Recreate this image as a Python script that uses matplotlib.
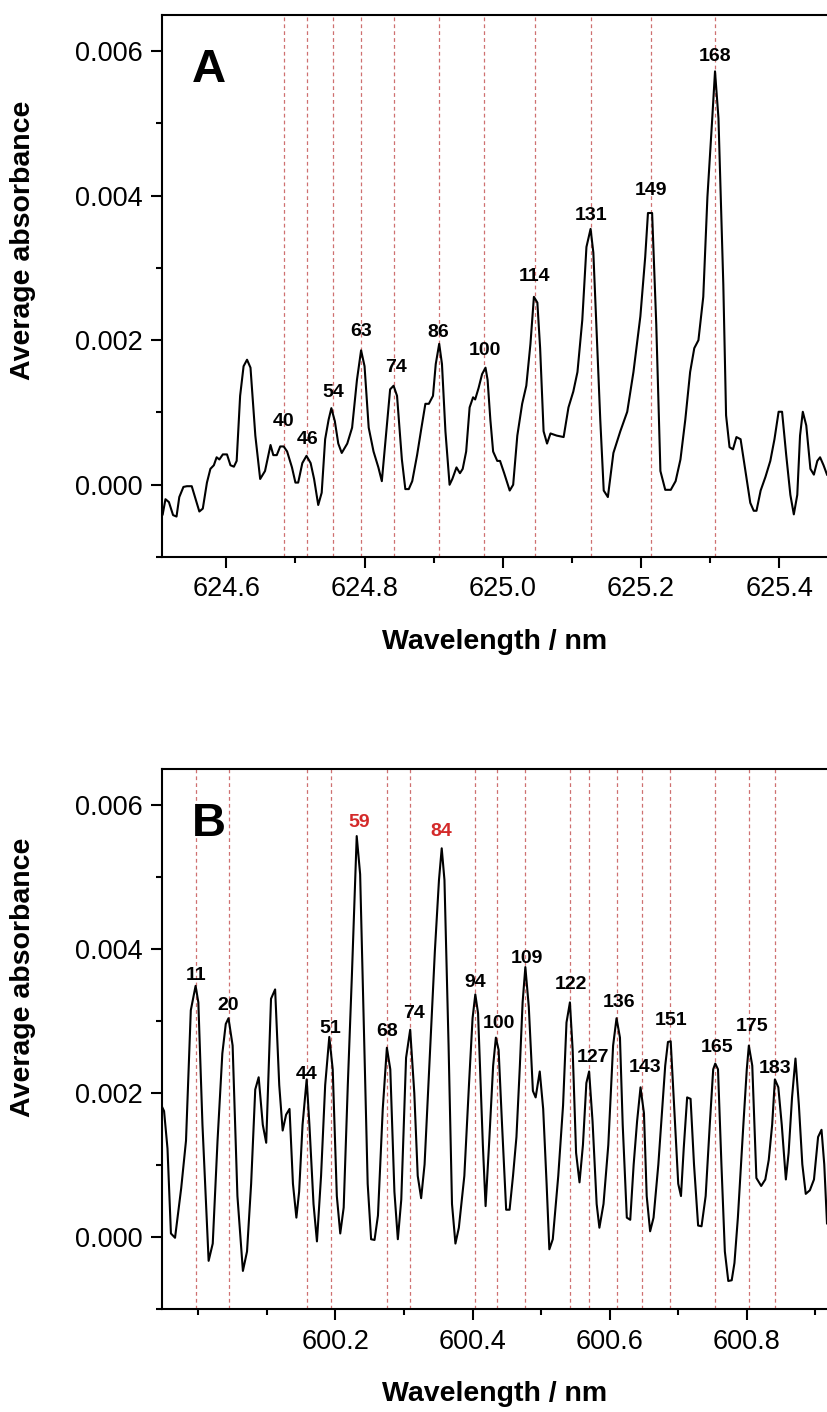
import numpy as np
import matplotlib
matplotlib.use("Agg")
import matplotlib.pyplot as plt
from matplotlib.ticker import MultipleLocator, FixedLocator, FormatStrFormatter

plt.rcParams['font.family'] = ['Liberation Sans', 'DejaVu Sans']

# ---- panel A data ----
wl_a = [624.508, 624.512, 624.517, 624.523, 624.528, 624.532, 624.538, 624.543, 624.550, 624.555,
        624.561, 624.566, 624.572, 624.577, 624.582, 624.586, 624.590, 624.595, 624.601, 624.606,
        624.611, 624.615, 624.620, 624.625, 624.630, 624.635, 624.642, 624.649, 624.656, 624.664,
        624.668, 624.673, 624.678, 624.683, 624.688, 624.695, 624.700, 624.704, 624.710, 624.716,
        624.722, 624.727, 624.733, 624.738, 624.743, 624.748, 624.752, 624.757, 624.762, 624.767,
        624.775, 624.782, 624.789, 624.795, 624.800, 624.806, 624.813, 624.820, 624.825, 624.833,
        624.837, 624.842, 624.847, 624.854, 624.859, 624.864, 624.869, 624.876, 624.882, 624.888,
        624.893, 624.899, 624.903, 624.908, 624.912, 624.917, 624.923, 624.927, 624.933, 624.938,
        624.942, 624.947, 624.952, 624.957, 624.960, 624.965, 624.970, 624.975, 624.978, 624.982,
        624.986, 624.992, 624.996, 625.002, 625.010, 625.015, 625.021, 625.028, 625.034, 625.040,
        625.045, 625.050, 625.054, 625.059, 625.064, 625.069, 625.078, 625.088, 625.095, 625.102,
        625.108, 625.115, 625.121, 625.127, 625.131, 625.136, 625.141, 625.146, 625.152, 625.160,
        625.170, 625.180, 625.189, 625.199, 625.206, 625.210, 625.216, 625.222, 625.228, 625.235,
        625.243, 625.250, 625.257, 625.264, 625.271, 625.277, 625.283, 625.290, 625.296, 625.303,
        625.307, 625.312, 625.319, 625.323, 625.328, 625.333, 625.338, 625.344, 625.351, 625.358,
        625.363, 625.367, 625.373, 625.380, 625.387, 625.393, 625.399, 625.404, 625.410, 625.416,
        625.421, 625.426, 625.430, 625.434, 625.439, 625.445, 625.450, 625.455, 625.459, 625.464,
        625.469]
abs_a = [-0.00041, -0.00020, -0.00024, -0.00042, -0.00044, -0.00017, -0.00003, -0.00002, -0.00002, -0.00018,
         -0.00037, -0.00033, 0.00003, 0.00022, 0.00027, 0.00038, 0.00035, 0.00042, 0.00042, 0.00027,
         0.00025, 0.00033, 0.00123, 0.00164, 0.00173, 0.00162, 0.00068, 0.00008, 0.00019, 0.00055,
         0.00041, 0.00041, 0.00053, 0.00053, 0.00046, 0.00024, 0.00003, 0.00003, 0.00030, 0.00040,
         0.00030, 0.00008, -0.00028, -0.00011, 0.00063, 0.00090, 0.00106, 0.00088, 0.00057, 0.00044,
         0.00057, 0.00079, 0.00145, 0.00186, 0.00164, 0.00079, 0.00046, 0.00024, 0.00005, 0.00090,
         0.00132, 0.00137, 0.00123, 0.00035, -0.00006, -0.00006, 0.00005, 0.00041, 0.00077, 0.00112,
         0.00112, 0.00123, 0.00167, 0.00195, 0.00167, 0.00074, 0.00000, 0.00008, 0.00024, 0.00016,
         0.00022, 0.00046, 0.00107, 0.00121, 0.00118, 0.00134, 0.00153, 0.00162, 0.00145, 0.00090,
         0.00046, 0.00033, 0.00033, 0.00016, -0.00008, 0.00000, 0.00068, 0.00112, 0.00137, 0.00195,
         0.00260, 0.00252, 0.00189, 0.00074, 0.00057, 0.00071, 0.00068, 0.00066, 0.00107, 0.00129,
         0.00156, 0.00228, 0.00329, 0.00354, 0.00321, 0.00206, 0.00090, -0.00008, -0.00017, 0.00044,
         0.00074, 0.00101, 0.00156, 0.00233, 0.00315, 0.00376, 0.00376, 0.00222, 0.00019, -0.00007,
         -0.00007, 0.00005, 0.00035, 0.00090, 0.00156, 0.00189, 0.00200, 0.00260, 0.00398, 0.00507,
         0.00572, 0.00507, 0.00277, 0.00096, 0.00052, 0.00049, 0.00066, 0.00063, 0.00019, -0.00025,
         -0.00036, -0.00036, -0.00008, 0.00011, 0.00033, 0.00063, 0.00101, 0.00101, 0.00041, -0.00014,
         -0.00041, -0.00014, 0.00068, 0.00101, 0.00082, 0.00022, 0.00014, 0.00033, 0.00038, 0.00027,
         0.00014]
lines_a = [624.683, 624.717, 624.754, 624.795, 624.843, 624.907, 624.973, 625.046, 625.127, 625.214, 625.307]
labels_a = ['40', '46', '54', '63', '74', '86', '100', '114', '131', '149', '168']
label_x_a = [624.683, 624.717, 624.754, 624.795, 624.846, 624.907, 624.974, 625.046, 625.128, 625.215, 625.307]
label_y_a = [0.00088, 0.00062, 0.00127, 0.00212, 0.00162, 0.00211, 0.00186, 0.00288, 0.00373, 0.00407, 0.00592]
ticks_a = [624.6, 624.8, 625.0, 625.2, 625.4]

# ---- panel B data ----
wl_b = [599.947, 599.950, 599.955, 599.960, 599.966, 599.975, 599.982, 599.989, 599.996, 600.000,
        600.006, 600.015, 600.021, 600.028, 600.035, 600.040, 600.044, 600.050, 600.057, 600.065,
        600.071, 600.077, 600.083, 600.088, 600.094, 600.099, 600.106, 600.112, 600.118, 600.123,
        600.128, 600.133, 600.138, 600.143, 600.147, 600.152, 600.158, 600.162, 600.168, 600.173,
        600.179, 600.185, 600.191, 600.196, 600.202, 600.207, 600.212, 600.218, 600.224, 600.228,
        600.231, 600.236, 600.242, 600.247, 600.252, 600.257, 600.262, 600.269, 600.275, 600.280,
        600.286, 600.291, 600.296, 600.303, 600.309, 600.315, 600.320, 600.325, 600.330, 600.337,
        600.345, 600.351, 600.355, 600.359, 600.365, 600.370, 600.375, 600.380, 600.388, 600.395,
        600.400, 600.404, 600.408, 600.415, 600.419, 600.424, 600.430, 600.434, 600.438, 600.443,
        600.449, 600.454, 600.459, 600.464, 600.469, 600.473, 600.477, 600.482, 600.488, 600.492,
        600.498, 600.503, 600.508, 600.512, 600.517, 600.525, 600.532, 600.537, 600.542, 600.546,
        600.551, 600.556, 600.561, 600.566, 600.570, 600.575, 600.581, 600.585, 600.591, 600.598,
        600.605, 600.610, 600.615, 600.619, 600.625, 600.630, 600.635, 600.640, 600.645, 600.650,
        600.654, 600.659, 600.664, 600.671, 600.675, 600.681, 600.685, 600.689, 600.694, 600.700,
        600.704, 600.708, 600.713, 600.718, 600.723, 600.729, 600.734, 600.740, 600.746, 600.751,
        600.754, 600.758, 600.763, 600.768, 600.773, 600.778, 600.782, 600.787, 600.795, 600.800,
        600.803, 600.808, 600.814, 600.821, 600.827, 600.832, 600.837, 600.841, 600.846, 600.851,
        600.857, 600.861, 600.866, 600.871, 600.876, 600.881, 600.886, 600.892, 600.898, 600.904,
        600.909, 600.913, 600.917]
abs_b = [0.00181, 0.00175, 0.00123, 0.00005, -0.00001, 0.00068, 0.00134, 0.00315, 0.00349, 0.00326,
         0.00156, -0.00033, -0.00009, 0.00134, 0.00255, 0.00296, 0.00304, 0.00266, 0.00057, -0.00047,
         -0.00020, 0.00074, 0.00205, 0.00222, 0.00156, 0.00131, 0.00331, 0.00344, 0.00211, 0.00148,
         0.00170, 0.00178, 0.00074, 0.00027, 0.00063, 0.00156, 0.00219, 0.00156, 0.00046, -0.00006,
         0.00085, 0.00211, 0.00278, 0.00233, 0.00057, 0.00005, 0.00041, 0.00211, 0.00364, 0.00474,
         0.00557, 0.00504, 0.00266, 0.00074, -0.00003, -0.00004, 0.00030, 0.00178, 0.00263, 0.00233,
         0.00063, -0.00003, 0.00052, 0.00249, 0.00288, 0.00200, 0.00085, 0.00054, 0.00101, 0.00238,
         0.00397, 0.00496, 0.00540, 0.00496, 0.00266, 0.00046, -0.00009, 0.00013, 0.00085, 0.00216,
         0.00304, 0.00337, 0.00311, 0.00128, 0.00043, 0.00128, 0.00238, 0.00277, 0.00260, 0.00156,
         0.00038, 0.00038, 0.00085, 0.00139, 0.00238, 0.00326, 0.00375, 0.00320, 0.00203, 0.00194,
         0.00230, 0.00178, 0.00074, -0.00017, -0.00003, 0.00085, 0.00183, 0.00298, 0.00326, 0.00260,
         0.00117, 0.00076, 0.00128, 0.00214, 0.00230, 0.00161, 0.00046, 0.00013, 0.00046, 0.00128,
         0.00266, 0.00304, 0.00277, 0.00156, 0.00027, 0.00024, 0.00101, 0.00161, 0.00208, 0.00172,
         0.00057, 0.00008, 0.00027, 0.00101, 0.00156, 0.00238, 0.00271, 0.00272, 0.00183, 0.00074,
         0.00057, 0.00123, 0.00194, 0.00192, 0.00101, 0.00016, 0.00015, 0.00057, 0.00156, 0.00233,
         0.00241, 0.00233, 0.00101, -0.00020, -0.00061, -0.00060, -0.00036, 0.00027, 0.00156, 0.00233,
         0.00266, 0.00238, 0.00082, 0.00071, 0.00080, 0.00107, 0.00156, 0.00219, 0.00208, 0.00156,
         0.00080, 0.00117, 0.00194, 0.00248, 0.00183, 0.00101, 0.00060, 0.00065, 0.00080, 0.00139,
         0.00149, 0.00101, 0.00019]
lines_b = [599.997, 600.044, 600.158, 600.193, 600.275, 600.309, 600.404, 600.435, 600.477,
           600.542, 600.570, 600.610, 600.647, 600.688, 600.754, 600.803, 600.841]
labels_b = ['11', '20', '44', '51', '59', '68', '74', '84', '94', '100',
            '109', '122', '127', '136', '143', '151', '165', '175', '183']
label_x_b = [599.996, 600.044, 600.158, 600.193, 600.234, 600.275, 600.315, 600.355, 600.404, 600.439,
             600.480, 600.543, 600.575, 600.613, 600.651, 600.690, 600.757, 600.807, 600.841]
label_y_b = [0.00363, 0.00322, 0.00226, 0.00290, 0.00576, 0.00285, 0.00310, 0.00563, 0.00353, 0.00296,
             0.00387, 0.00351, 0.00249, 0.00326, 0.00236, 0.00301, 0.00263, 0.00293, 0.00234]
red_labels_b = ['59', '84']
ticks_b = [600.2, 600.4, 600.6, 600.8]
minor_b = [600.0, 600.1, 600.3, 600.5, 600.7, 600.9]


def draw_panel(ax, wl, ab, vlines, labels, lx, ly, xlim, letter, majors, red=()):
    for x in vlines:
        ax.axvline(x, color='#cf7070', lw=0.9, ls=(0, (3, 2.5)), zorder=1)
    ax.plot(wl, ab, color='black', lw=1.5, zorder=2)
    for t, x, y in zip(labels, lx, ly):
        c = '#d42a2a' if t in red else 'black'
        ax.text(x, y, t, ha='center', va='center', fontsize=14, fontweight='bold', color=c, zorder=3)
    ax.text(0.071, 0.898, letter, transform=ax.transAxes, ha='center', va='center',
            fontsize=34, fontweight='bold')
    ax.set_xlim(*xlim)
    ax.set_ylim(-0.001, 0.0065)
    ax.xaxis.set_major_locator(FixedLocator(majors))
    ax.yaxis.set_major_locator(MultipleLocator(0.002))
    ax.yaxis.set_minor_locator(MultipleLocator(0.001))
    ax.xaxis.set_major_formatter(FormatStrFormatter('%.1f'))
    ax.yaxis.set_major_formatter(FormatStrFormatter('%.3f'))
    ax.spines['right'].set_visible(False)
    for s in ['left', 'bottom', 'top']:
        ax.spines[s].set_linewidth(1.5)
    ax.tick_params(which='both', direction='out', width=1.5, top=False, right=False)
    ax.tick_params(which='major', length=8, pad=6, labelsize=19.5)
    ax.tick_params(which='minor', length=4.5)
    ax.set_xlabel('Wavelength / nm', fontsize=20.5, fontweight='bold', labelpad=19)
    ax.set_ylabel('Average absorbance', fontsize=20.5, fontweight='bold')


fig = plt.figure(figsize=(8.27, 14.12), dpi=100)
axA = fig.add_axes([0.1959, 0.6055, 0.8041, 0.3839])
axB = fig.add_axes([0.1959, 0.0729, 0.8041, 0.3824])

draw_panel(axA, wl_a, abs_a, lines_a, labels_a, label_x_a, label_y_a, (624.507, 625.469), 'A', ticks_a)
axA.xaxis.set_minor_locator(MultipleLocator(0.1))
axA.yaxis.set_label_coords(-0.19, 0.585)

draw_panel(axB, wl_b, abs_b, lines_b, labels_b, label_x_b, label_y_b, (599.947, 600.917), 'B', ticks_b,
           red=red_labels_b)
axB.xaxis.set_minor_locator(FixedLocator(minor_b))
axB.yaxis.set_label_coords(-0.19, 0.615)

fig.savefig('out.png', dpi=100)
